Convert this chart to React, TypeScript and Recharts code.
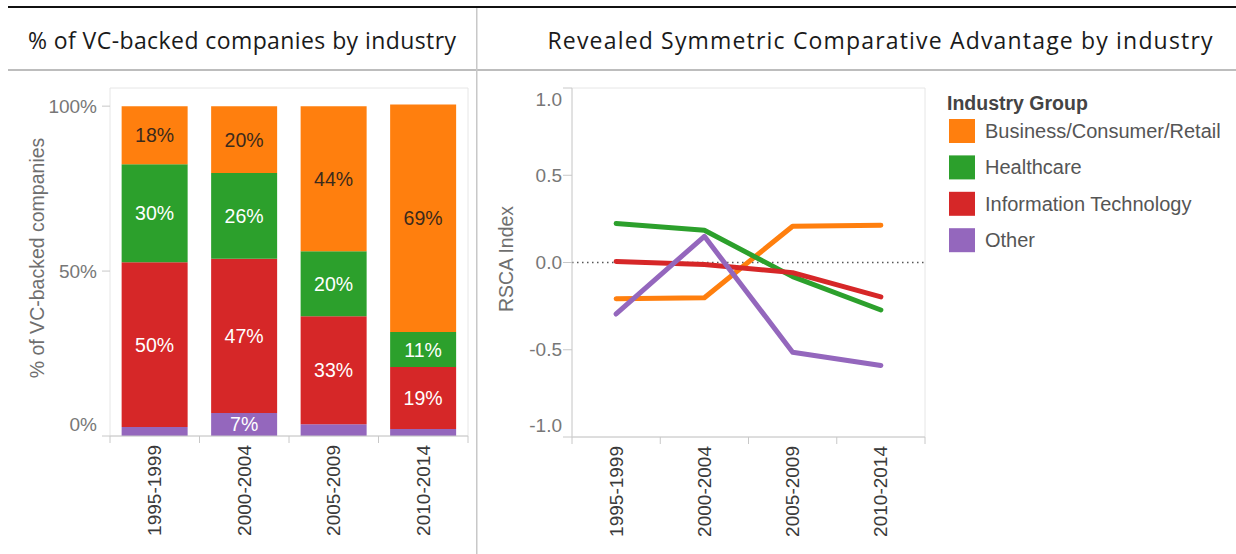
import React from 'react';
import { BarChart, Bar, XAxis, YAxis, LabelList, LineChart, Line, ReferenceLine, ReferenceArea } from 'recharts';

const periods = ['1995-1999', '2000-2004', '2005-2009', '2010-2014'];
const industries = ['Business/Consumer/Retail', 'Healthcare', 'Information Technology', 'Other'];
const industryKeys = ['biz', 'hc', 'it', 'other'];
const industryColors = ['#ff7f0e', '#2ca02c', '#d62728', '#9467bd'];

// % of VC-backed companies (stacked shares)
const shareBusiness = [17.6, 20.3, 44.0, 69.0];
const shareHealthcare = [29.7, 26.0, 19.7, 10.6];
const shareIT = [50.0, 46.7, 32.7, 18.8];
const shareOther = [2.7, 7.0, 3.6, 2.1];

// RSCA index
const rscaBusiness = [-0.208, -0.202, 0.208, 0.214];
const rscaHealthcare = [0.224, 0.185, -0.081, -0.272];
const rscaIT = [0.006, -0.012, -0.058, -0.197];
const rscaOther = [-0.295, 0.15, -0.514, -0.59];

const shareTicks = [0, 50, 100];
const rscaTicks = [-1, -0.5, 0, 0.5, 1];

const barData = periods.map((period, i) => ({
  period,
  biz: shareBusiness[i],
  hc: shareHealthcare[i],
  it: shareIT[i],
  other: shareOther[i],
}));

const lineData = periods.map((period, i) => ({
  period,
  biz: rscaBusiness[i],
  hc: rscaHealthcare[i],
  it: rscaIT[i],
  other: rscaOther[i],
}));

const FONT = "'Liberation Sans', Arial, sans-serif";
const TITLE_FONT = "'Open Sans', sans-serif";

const makeSegmentLabel = (color: string) => (props: any) => {
  const { x, y, width, height, value } = props;
  const v = Array.isArray(value) ? value[1] - value[0] : Number(value);
  if (!(v >= 5)) return null;
  return (
    <text
      x={Number(x) + Number(width) / 2}
      y={Number(y) + Number(height) / 2}
      textAnchor="middle"
      dominantBaseline="central"
      fill={color}
      fontSize={19.5}
      fontFamily={FONT}
    >
      {Math.round(v)}%
    </text>
  );
};

const makeBandTick = (band: number, count: number) => (props: any) => {
  const { x, y, payload, index } = props;
  return (
    <g>
      <line x1={x - band / 2} x2={x - band / 2} y1={y} y2={y + 7} stroke="#c8c8c8" />
      {index === count - 1 && <line x1={x + band / 2} x2={x + band / 2} y1={y} y2={y + 7} stroke="#c8c8c8" />}
      <text
        transform={`translate(${x},${y + 9}) rotate(-90)`}
        textAnchor="end"
        dominantBaseline="central"
        fill="#3a3a3a"
        fontSize={19}
        fontFamily={FONT}
      >
        {payload.value}
      </text>
    </g>
  );
};

const makeValueTick = (fmt: (v: number) => string, shifts: Record<string, number>) => (props: any) => {
  const { x, y, payload } = props;
  const dy = shifts[String(payload.value)] ?? 0;
  return (
    <text x={x} y={y + dy} textAnchor="end" dominantBaseline="central" fill="#777" fontSize={19} fontFamily={FONT}>
      {fmt(payload.value)}
    </text>
  );
};

const segLabelColors: Record<string, string> = { biz: '#3b2a1c', hc: '#ffffff', it: '#ffffff', other: '#ffffff' };

export default function App() {
  const stackOrder = ['other', 'it', 'hc', 'biz'];
  return (
    <div style={{ position: 'absolute', left: 0, top: 0, width: 1236, height: 554, background: '#fff', overflow: 'hidden' }}>
      <div style={{ position: 'absolute', left: 0, top: 0 }}>
        <BarChart
          width={477}
          height={554}
          data={barData}
          margin={{ top: 88, right: 9, left: 0, bottom: 0 }}
          barCategoryGap="13%"
        >
          <ReferenceArea y1={0} y2={105.5} fill="none" stroke="#e6e6e6" ifOverflow="visible" />
          <XAxis
            dataKey="period"
            height={118}
            interval={0}
            tickLine={false}
            tickSize={0}
            tickMargin={0}
            axisLine={{ stroke: '#c8c8c8' }}
            tick={makeBandTick(358 / 4, periods.length)}
          />
          <YAxis
            width={110}
            domain={[0, 105.5]}
            allowDataOverflow
            ticks={shareTicks}
            interval={0}
            tickSize={8}
            tickMargin={5}
            tickLine={{ stroke: '#c8c8c8' }}
            axisLine={false}
            tick={makeValueTick((v) => `${v}%`, { '0': -12 })}
          />
          {stackOrder.map((key) => {
            const idx = industryKeys.indexOf(key);
            return (
              <Bar key={key} dataKey={key} stackId="s" fill={industryColors[idx]} isAnimationActive={false}>
                <LabelList dataKey={key} content={makeSegmentLabel(segLabelColors[key])} />
              </Bar>
            );
          })}
        </BarChart>
      </div>

      <div style={{ position: 'absolute', left: 477, top: 0 }}>
        <LineChart width={759} height={554} data={lineData} margin={{ top: 88, right: 311, left: 0, bottom: 0 }}>
          <ReferenceArea y1={-1} y2={1} fill="none" stroke="#e6e6e6" ifOverflow="visible" />
          <XAxis
            dataKey="period"
            scale="band"
            height={117}
            interval={0}
            tickLine={false}
            tickSize={0}
            tickMargin={0}
            axisLine={{ stroke: '#c8c8c8' }}
            tick={makeBandTick(353 / 4, periods.length)}
          />
          <YAxis
            width={95}
            domain={[-1, 1]}
            allowDataOverflow
            ticks={rscaTicks}
            interval={0}
            tickSize={9}
            tickMargin={1}
            tickLine={{ stroke: '#c8c8c8' }}
            axisLine={{ stroke: '#d0d0d0' }}
            tick={makeValueTick((v) => v.toFixed(1), { '1': 11, '-1': -12 })}
          />
          <ReferenceLine y={0} stroke="#555" strokeDasharray="1.5 3.5" strokeWidth={1.5} />
          {industryKeys.map((key, idx) => (
            <Line
              key={key}
              type="linear"
              dataKey={key}
              stroke={industryColors[idx]}
              strokeWidth={5}
              dot={false}
              activeDot={false}
              strokeLinecap="round"
              strokeLinejoin="round"
              isAnimationActive={false}
            />
          ))}
        </LineChart>
      </div>

      <svg
        width={1236}
        height={554}
        style={{ position: 'absolute', left: 0, top: 0, pointerEvents: 'none' }}
      >
        <rect x={8} y={6} width={1228} height={2} fill="#111" />
        <rect x={8} y={69} width={1228} height={2} fill="#bdbdbd" />
        <rect x={476} y={8} width={1.5} height={546} fill="#c8c8c8" />
        <text x={242} y={49} textAnchor="middle" fontFamily={TITLE_FONT} fontSize={23} fill="#1a1a1a" textLength={428} lengthAdjust="spacing">
          % of VC-backed companies by industry
        </text>
        <text x={880} y={49} textAnchor="middle" fontFamily={TITLE_FONT} fontSize={23} fill="#1a1a1a" textLength={665} lengthAdjust="spacing">
          Revealed Symmetric Comparative Advantage by industry
        </text>
        <text
          transform="translate(37,258) rotate(-90)"
          textAnchor="middle"
          dominantBaseline="central"
          fontFamily={FONT}
          fontSize={19.5}
          fill="#6f6f6f"
        >
          % of VC-backed companies
        </text>
        <text
          transform="translate(506,259) rotate(-90)"
          textAnchor="middle"
          dominantBaseline="central"
          fontFamily={FONT}
          fontSize={19.5}
          fill="#6f6f6f"
        >
          RSCA Index
        </text>
        <text x={947} y={103} dominantBaseline="central" fontFamily={FONT} fontSize={19.5} fontWeight="bold" fill="#444">
          Industry Group
        </text>
        {industries.map((name, i) => {
          const cy = 131 + i * 36.4;
          return (
            <g key={name}>
              <rect x={949} y={cy - 12} width={26} height={24} fill={industryColors[i]} />
              <text x={985} y={cy} dominantBaseline="central" fontFamily={FONT} fontSize={20} fill="#555">
                {name}
              </text>
            </g>
          );
        })}
      </svg>
    </div>
  );
}
